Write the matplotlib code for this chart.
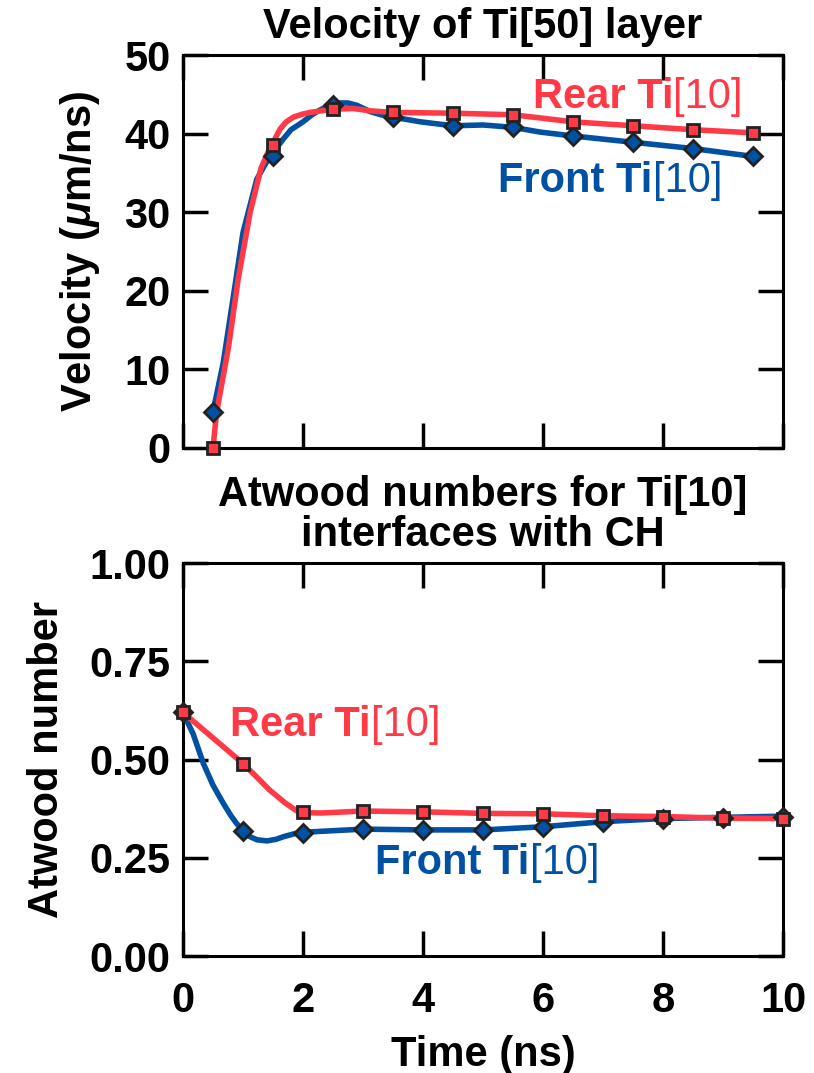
import numpy as np
import matplotlib
matplotlib.use("Agg")
import matplotlib.pyplot as plt

# Data
# Velocity of Ti[50] layer: marker samples
vel_t = [0.5, 1.5, 2.5, 3.5, 4.5, 5.5, 6.5, 7.5, 8.5, 9.5]
vel_front = [4.6, 37.2, 43.7, 42.1, 41.0, 40.8, 39.7, 38.9, 38.1, 37.1]
vel_rear = [0.0, 38.6, 43.1, 42.7, 42.6, 42.4, 41.5, 41.0, 40.5, 40.1]

# Velocity curves (denser reading of the drawn lines)
vel_front_line_t = [0.5, 0.67, 0.84, 1.0, 1.23, 1.4, 1.48, 1.58, 1.67, 1.8, 2.0, 2.15, 2.28,
                    2.45, 2.6, 2.75, 2.9, 3.12, 3.3, 3.5, 3.96, 4.5, 5.0, 5.5, 5.95, 6.5,
                    7.5, 8.5, 9.5]
vel_front_line = [4.6, 10.8, 19.3, 27.4, 34.2, 36.5, 37.2, 38.4, 39.3, 40.5, 41.5, 42.4, 43.0,
                  43.6, 43.9, 43.9, 43.6, 42.8, 42.4, 42.1, 41.5, 41.0, 41.1, 40.8, 40.2,
                  39.7, 38.9, 38.1, 37.1]
vel_rear_line_t = [0.5, 0.56, 0.76, 0.92, 1.12, 1.3, 1.42, 1.49, 1.55, 1.62, 1.72, 1.84, 2.0,
                   2.12, 2.3, 2.49, 2.84, 3.12, 3.5, 4.5, 5.5, 5.95, 6.5, 7.5, 8.5, 9.5]
vel_rear_line = [0.0, 4.5, 12.9, 21.5, 30.0, 35.6, 37.7, 38.6, 39.6, 40.6, 41.5, 42.1, 42.5,
                 42.7, 42.9, 43.1, 43.2, 42.9, 42.7, 42.6, 42.4, 42.0, 41.5, 41.0, 40.5, 40.1]

# Atwood numbers: marker samples
atw_t = [0, 1, 2, 3, 4, 5, 6, 7, 8, 9, 10]
atw_front = [0.62, 0.319, 0.312, 0.323, 0.321, 0.321, 0.329, 0.342, 0.350, 0.352, 0.355]
atw_rear = [0.62, 0.49, 0.367, 0.369, 0.367, 0.363, 0.362, 0.357, 0.355, 0.351, 0.350]

# Atwood curves
atw_front_line_t = [0, 0.17, 0.34, 0.5, 0.67, 0.8, 0.89, 1.0, 1.1, 1.23, 1.4, 1.55, 1.68, 1.85,
                    2.0, 3, 4, 5, 6, 7, 8, 9, 10]
atw_front_line = [0.62, 0.565, 0.49, 0.435, 0.389, 0.357, 0.338, 0.319, 0.305, 0.296, 0.293,
                  0.297, 0.304, 0.311, 0.315, 0.323, 0.321, 0.321, 0.329, 0.342, 0.350, 0.353,
                  0.356]
atw_rear_line_t = [0, 1, 1.2, 1.44, 1.7, 1.89, 2, 2.3, 3, 4, 5, 6, 7, 8, 9, 10]
atw_rear_line = [0.62, 0.49, 0.46, 0.423, 0.39, 0.37, 0.365, 0.364, 0.369, 0.367, 0.363,
                 0.362, 0.357, 0.355, 0.351, 0.350]

RED = "#ff3a46"
BLUE = "#0050a4"
EDGE = "#222222"
FS = 30

plt.rcParams['font.family'] = ['Liberation Sans', 'DejaVu Sans']
plt.rcParams['font.weight'] = 'bold'
plt.rcParams['mathtext.fontset'] = 'custom'
plt.rcParams['mathtext.it'] = 'Liberation Sans:italic:bold'
plt.rcParams['mathtext.rm'] = 'Liberation Sans:bold'


def series_label(ax, x, y, bold_part, normal_part, color):
    # bold name left of the anchor, normal-weight "[10]" right of it
    ax.text(x, y, bold_part, color=color, fontsize=FS, fontweight='bold',
            ha='right', va='center')
    ax.text(x, y, normal_part, color=color, fontsize=FS, fontweight='normal',
            ha='left', va='center')


def style_axes(ax):
    ax.tick_params(direction='in', top=True, right=True, length=18, width=2.5,
                   labelsize=FS, pad=9)
    ax.tick_params(axis='x', pad=18)
    for s in ax.spines.values():
        s.set_linewidth(2.2)


fig = plt.figure(figsize=(8.14, 10.73), dpi=100)
ax1 = fig.add_axes([0.2248, 0.5825, 0.7372, 0.3662])
ax2 = fig.add_axes([0.2248, 0.109, 0.7372, 0.3662])

# Top panel
ax1.plot(vel_front_line_t, vel_front_line, color=BLUE, lw=4.0, solid_joinstyle='round', zorder=2)
ax1.plot(vel_rear_line_t, vel_rear_line, color=RED, lw=4.0, solid_joinstyle='round', zorder=3)
ax1.plot(vel_t, vel_front, ls='none', marker='D', ms=9, mfc=BLUE, mec=EDGE, mew=2,
         clip_on=False, zorder=4)
ax1.plot(vel_t, vel_rear, ls='none', marker='s', ms=8.5, mfc=RED, mec=EDGE, mew=2,
         clip_on=False, zorder=5)
ax1.set_xlim(0, 10)
ax1.set_ylim(0, 50)
ax1.set_xticks(np.arange(0, 11, 2))
ax1.set_yticks(np.arange(0, 51, 10))
ax1.set_xticklabels([])
style_axes(ax1)
ax1.set_ylabel(r'Velocity ($\mu$m/ns)', fontsize=FS, fontweight='bold', labelpad=16)
ax1.set_title('Velocity of Ti[50] layer', fontsize=FS, fontweight='bold', pad=12)
series_label(ax1, 8.17, 44.6, 'Rear Ti', '[10]', RED)
series_label(ax1, 7.83, 34.0, 'Front Ti', '[10]', BLUE)

# Bottom panel
ax2.plot(atw_front_line_t, atw_front_line, color=BLUE, lw=4.0, solid_joinstyle='round', zorder=2)
ax2.plot(atw_rear_line_t, atw_rear_line, color=RED, lw=4.0, solid_joinstyle='round', zorder=3)
ax2.plot(atw_t, atw_front, ls='none', marker='D', ms=9, mfc=BLUE, mec=EDGE, mew=2,
         clip_on=False, zorder=4)
ax2.plot(atw_t, atw_rear, ls='none', marker='s', ms=8.5, mfc=RED, mec=EDGE, mew=2,
         clip_on=False, zorder=5)
ax2.set_xlim(0, 10)
ax2.set_ylim(0, 1)
ax2.set_xticks(np.arange(0, 11, 2))
ax2.set_yticks([0, 0.25, 0.5, 0.75, 1.0])
ax2.set_yticklabels(['0.00', '0.25', '0.50', '0.75', '1.00'])
style_axes(ax2)
ax2.set_ylabel('Atwood number', fontsize=FS, fontweight='bold', labelpad=16)
ax2.set_xlabel('Time (ns)', fontsize=FS, fontweight='bold', labelpad=10)
ax2.set_title('Atwood numbers for Ti[10]\ninterfaces with CH', fontsize=FS,
              fontweight='bold', pad=12, linespacing=1.0)
series_label(ax2, 3.13, 0.588, 'Rear Ti', '[10]', RED)
series_label(ax2, 5.78, 0.236, 'Front Ti', '[10]', BLUE)

fig.savefig('out.png', dpi=100)
